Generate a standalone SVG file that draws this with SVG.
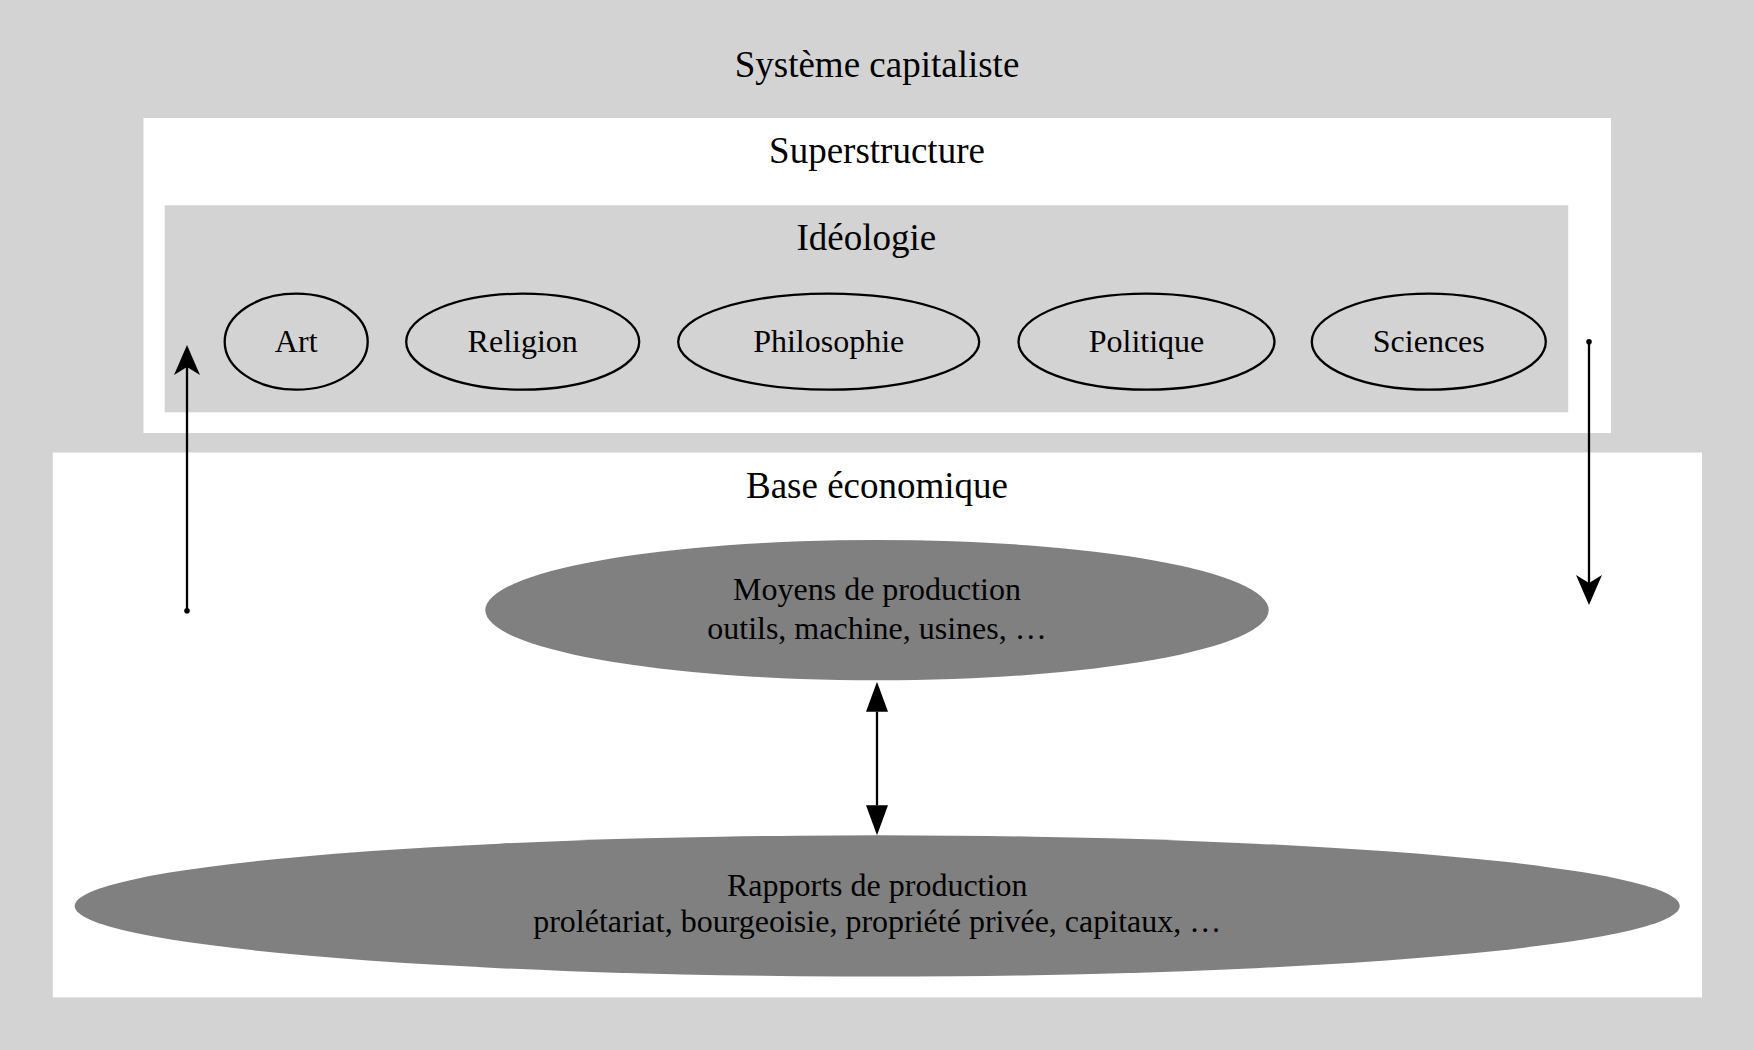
<svg xmlns="http://www.w3.org/2000/svg" width="1754" height="1050" viewBox="0 0 1754 1050">
<style>
.t{font-family:"Liberation Serif","Times New Roman",serif;fill:#000;text-anchor:middle}
.cl{font-size:37px}
.nd{font-size:32px}
.oval{fill:#d3d3d3;stroke:#000;stroke-width:2.3}
.gov{fill:#808080;stroke:none}
.edge{stroke:#000;stroke-width:2.3;fill:none}
</style>
<defs>
<marker id="vee" viewBox="0 -15 32 30" markerWidth="32" markerHeight="30" refX="10" refY="0" orient="auto" markerUnits="userSpaceOnUse">
<path d="M30,0 L0,-13 L8,0 L0,13 Z" fill="#000"/>
</marker>
<marker id="dot" viewBox="-4 -4 8 8" markerWidth="8" markerHeight="8" refX="0" refY="0" orient="auto" markerUnits="userSpaceOnUse">
<circle cx="0" cy="0" r="2.8" fill="#000"/>
</marker>
<marker id="tri" viewBox="0 -12 31 24" markerWidth="31" markerHeight="24" refX="0" refY="0" orient="auto-start-reverse" markerUnits="userSpaceOnUse">
<path d="M0,-11 L30,0 L0,11 Z" fill="#000"/>
</marker>
</defs>
<g id="systeme">
<rect x="0" y="0" width="1754" height="1050" fill="#d3d3d3"/>
<text class="t cl" x="877" y="77">Système capitaliste</text>
</g>
<g id="superstructure">
<rect x="143.5" y="118" width="1467.5" height="315" fill="#fff"/>
<text class="t cl" x="877" y="163">Superstructure</text>
</g>
<g id="ideologie">
<rect x="164.7" y="205.3" width="1403.5" height="207" fill="#d3d3d3"/>
<text class="t cl" x="866.4" y="250">Idéologie</text>
</g>
<g id="art">
<ellipse class="oval" cx="296.2" cy="341.7" rx="71.5" ry="48"/>
<text class="t nd" x="296.2" y="351.5">Art</text>
</g>
<g id="religion">
<ellipse class="oval" cx="522.7" cy="341.7" rx="116.5" ry="48"/>
<text class="t nd" x="522.7" y="351.5">Religion</text>
</g>
<g id="philosophie">
<ellipse class="oval" cx="828.7" cy="341.7" rx="150.5" ry="48"/>
<text class="t nd" x="828.7" y="351.5">Philosophie</text>
</g>
<g id="politique">
<ellipse class="oval" cx="1146.5" cy="341.7" rx="128" ry="48"/>
<text class="t nd" x="1146.5" y="351.5">Politique</text>
</g>
<g id="sciences">
<ellipse class="oval" cx="1428.8" cy="341.7" rx="117" ry="48"/>
<text class="t nd" x="1428.8" y="351.5">Sciences</text>
</g>
<g id="base">
<rect x="52.8" y="452.5" width="1649.2" height="544.9" fill="#fff"/>
<text class="t cl" x="877" y="497.5">Base économique</text>
</g>
<g id="moyens">
<ellipse class="gov" cx="877" cy="610.1" rx="391.7" ry="70.2"/>
<text class="t nd" x="877" y="600">Moyens de production</text>
<text class="t nd" x="877" y="638.5">outils, machine, usines, …</text>
</g>
<g id="rapports">
<ellipse class="gov" cx="877.2" cy="905.9" rx="802.5" ry="70.6"/>
<text class="t nd" x="877.2" y="896">Rapports de production</text>
<text class="t nd" x="877.2" y="931.5">prolétariat, bourgeoisie, propriété privée, capitaux, …</text>
</g>
<g id="connectors">
<line class="edge" x1="187" y1="610.7" x2="187" y2="365" marker-start="url(#dot)" marker-end="url(#vee)"/>
<line class="edge" x1="1589" y1="341.7" x2="1589" y2="585" marker-start="url(#dot)" marker-end="url(#vee)"/>
<line class="edge" x1="877" y1="711.7" x2="877" y2="805.3" marker-start="url(#tri)" marker-end="url(#tri)"/>
</g>
</svg>
